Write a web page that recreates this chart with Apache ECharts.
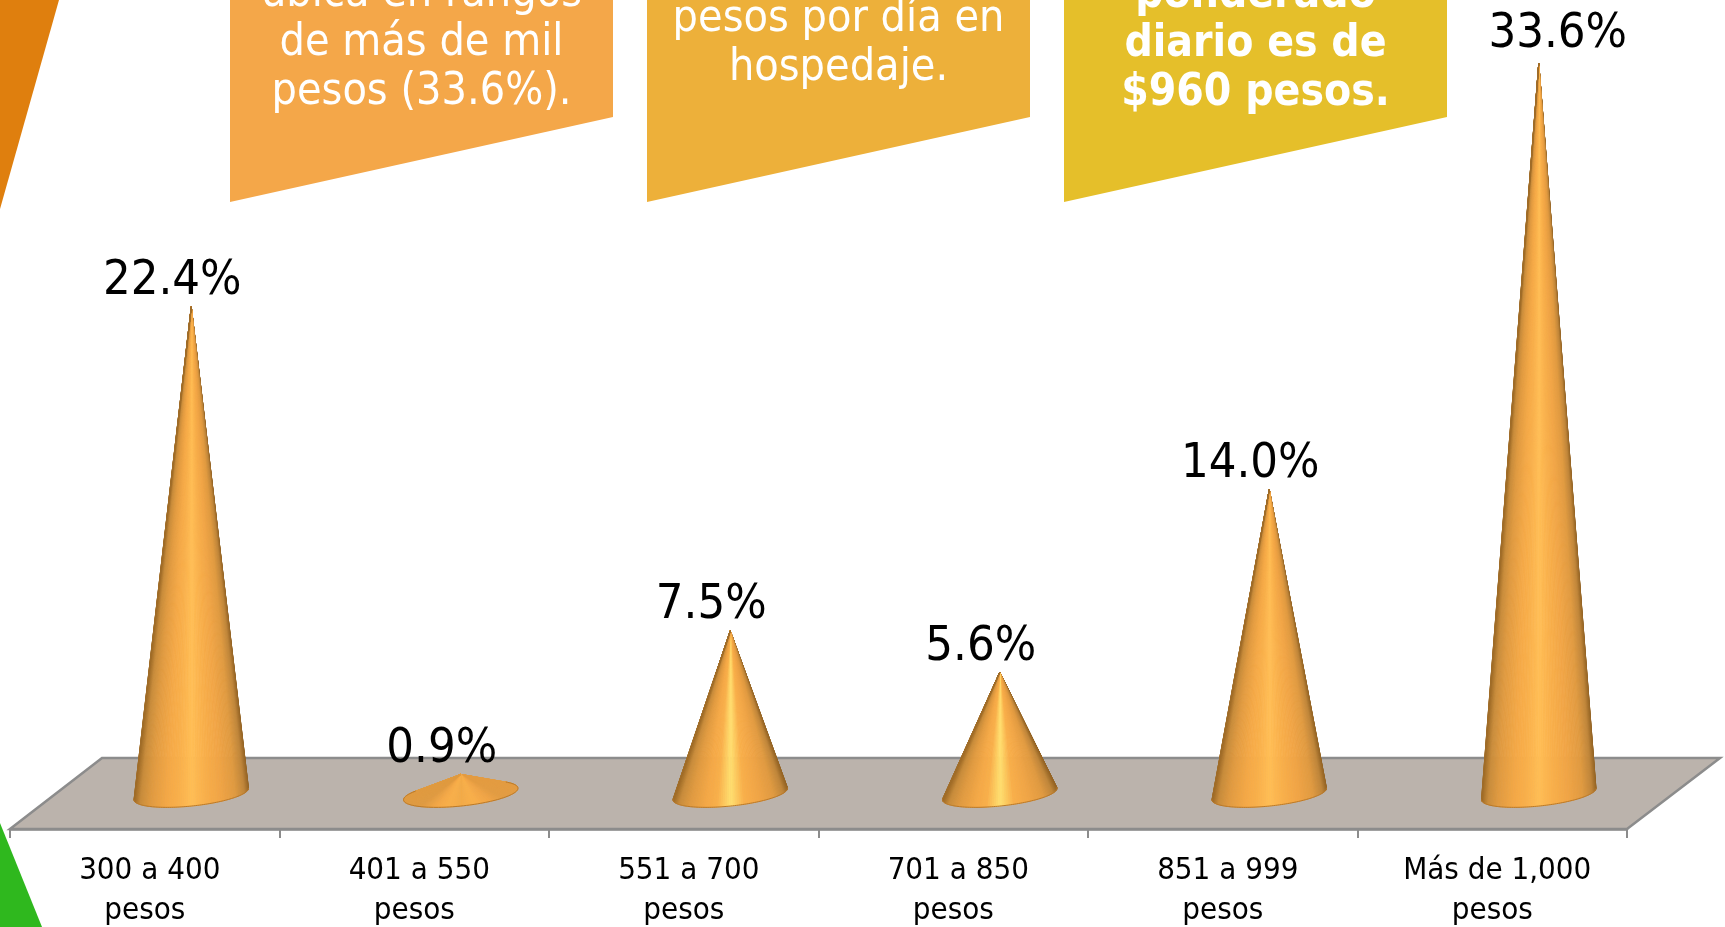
<!DOCTYPE html>
<html><head><meta charset="utf-8">
<style>html,body{margin:0;padding:0;background:#fff}#c{width:1725px;height:927px}</style>
<script src="https://cdn.jsdelivr.net/npm/echarts@6/dist/echarts.min.js"></script>
</head><body><div id="c"></div>
<script>
const categories = ['300 a 400', '401 a 550', '551 a 700', '701 a 850', '851 a 999', 'Más de 1,000'];
const unitLabel = 'pesos';
const values = [22.4, 0.9, 7.5, 5.6, 14.0, 33.6];
const calloutLeft = ['ubica en rangos', 'de más de mil', 'pesos (33.6%).'];
const calloutMiddle = ['pesos por día en', 'hospedaje.'];
const calloutRight = ['ponderado', 'diario es de', '$960 pesos.'];

const FONT = '"DejaVu Sans Condensed","DejaVu Sans",sans-serif';
const chart = echarts.init(document.getElementById('c'), null, {renderer:'canvas'});

function ramp(u, centre) {
  const stops = [[0, '#A06C28'], [0.05, '#C88C3B'], [0.14, '#E09A40'], [0.28, '#F4A846'],
    [0.38, '#F9AF4A'], [0.5, centre], [0.62, '#F9AF4A'], [0.76, '#F0A445'],
    [0.88, '#E09A40'], [0.96, '#C0863A'], [1, '#946425']];
  for (let k = 1; k < stops.length; k++) {
    if (u <= stops[k][0]) {
      const f = (u - stops[k - 1][0]) / (stops[k][0] - stops[k - 1][0]);
      return echarts.color.lerp(f, [stops[k - 1][1], stops[k][1]]);
    }
  }
  return stops[stops.length - 1][1];
}

function coneItem(params, api) {
  const i = api.value(0), v = api.value(1);
  const apex = api.coord([i, v]);
  const base = api.coord([i, 0]);
  const band = api.size([1, 0])[0];
  const a = band * 0.2135, b = 12, th = -6 * Math.PI / 180;
  const c = Math.cos(th), s = Math.sin(th);
  const dx = apex[0] - base[0], dy = apex[1] - base[1];
  const lx = (dx * c + dy * s) / a, ly = (-dx * s + dy * c) / b;
  const d = Math.hypot(lx, ly), phi = Math.atan2(ly, lx), w = Math.acos(1 / d);
  const start = phi + w, end = phi + 2 * Math.PI - w;
  const N = 90, rim = [];
  for (let k = 0; k <= N; k++) {
    const t = start + (end - start) * k / N;
    const ex = a * Math.cos(t), ey = b * Math.sin(t);
    rim.push([base[0] + ex * c - ey * s, base[1] + ex * s + ey * c]);
  }
  const xs = rim.map(p => p[0]);
  const xMin = Math.min(...xs), xMax = Math.max(...xs);
  const centre = v < 2 ? '#F2AA48' : (v > 10 ? '#FFBE55' : '#FFE070');
  const children = [];
  for (let k = 0; k < N; k++) {
    let u = ((rim[k][0] + rim[k + 1][0]) / 2 - xMin) / (xMax - xMin);
    if (v < 2) u = Math.min(0.86, Math.max(0.14, u));
    const col = ramp(u, centre);
    children.push({type: 'polygon', shape: {points: [apex, rim[k], rim[k + 1]]},
      style: {fill: col, stroke: col, lineWidth: 0.8}});
  }
  children.push({type: 'polyline', shape: {points: rim}, style: {fill: null, stroke: '#B9792A', lineWidth: 1}});
  const last = i === values.length - 1;
  children.push({type: 'text', z2: 10, style: {
    x: apex[0] + (last ? 19 : -19), y: apex[1] + (last ? -4 : -0.5),
    text: v.toFixed(1) + '%', font: '48.5px ' + FONT, fill: '#000',
    textAlign: 'center', textVerticalAlign: 'bottom'
  }});
  return {type: 'group', children};
}

function callout(x, color, lines, firstBaseline, bold) {
  const W = 383;
  return [
    {type: 'polygon', z: 0, shape: {points: [[x, 0], [x + W, 0], [x + W, 117], [x, 202]]}, style: {fill: color}},
    ...lines.map((t, k) => ({
      type: 'text', z: 1, x: x + W / 2, y: firstBaseline + k * 49,
      style: {text: t, font: (bold ? 'bold 44px ' : '44.5px ') + FONT, fill: '#fff', textAlign: 'center', textVerticalAlign: 'bottom'}
    }))
  ];
}

chart.setOption({
  animation: false,
  backgroundColor: '#fff',
  graphic: [
    {type: 'polygon', z: 0, shape: {points: [[0, 0], [59, 0], [0, 209]]}, style: {fill: '#DF7F0E'}},
    {type: 'polygon', z: 0, shape: {points: [[0, 823], [42, 927], [0, 927]]}, style: {fill: '#2FB81E'}},
    {type: 'polygon', z: 0, shape: {points: [[10, 829], [102, 758], [1720, 758], [1627, 829]]},
      style: {fill: '#BBB3AC', stroke: '#8C8C8C', lineWidth: 2.5}},
    ...callout(230, '#F4A749', calloutLeft, 17, false),
    ...callout(647, '#EDB03A', calloutMiddle, 42, false),
    ...callout(1064, '#E5BF2A', calloutRight, 18, true)
  ],
  grid: [
    {left: 10, width: 1617, top: 30, height: 799, outerBoundsMode: 'none'},
    {left: 56.5, width: 1617, top: 32.75, height: 761.25, outerBoundsMode: 'none'}
  ],
  xAxis: [
    {type: 'category', gridIndex: 0, data: categories, boundaryGap: true,
      axisLine: {show: true, lineStyle: {color: '#8C8C8C', width: 2.5}},
      axisTick: {show: true, alignWithLabel: false, length: 9, lineStyle: {color: '#8C8C8C', width: 2}},
      axisLabel: {interval: 0, margin: 22, hideOverlap: false,
        formatter: v => '{a|' + v + '}\n' + unitLabel,
        fontSize: 31, fontFamily: FONT, color: '#000', lineHeight: 40,
        rich: {a: {fontSize: 31, fontFamily: FONT, color: '#000', lineHeight: 40, padding: [0, 0, 0, 10]}}}},
    {type: 'category', gridIndex: 1, data: categories, show: false, boundaryGap: true}
  ],
  yAxis: [
    {type: 'value', gridIndex: 0, min: 0, max: 35, show: false},
    {type: 'value', gridIndex: 1, min: 0, max: 35, show: false}
  ],
  series: [{
    type: 'custom', xAxisIndex: 1, yAxisIndex: 1, z: 5, clip: false,
    renderItem: coneItem,
    encode: {x: 0, y: 1},
    data: values.map((v, i) => [i, v])
  }]
});
</script></body></html>
